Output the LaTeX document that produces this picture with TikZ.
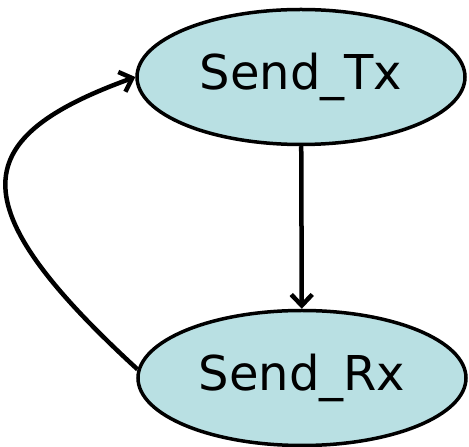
\documentclass[tikz,border=0pt]{standalone}
\usepackage{fontspec}
\setmainfont{DejaVu Sans}
\usetikzlibrary{arrows.meta, shapes.geometric}
\definecolor{statefill}{RGB}{185,224,227}

\begin{document}
\begin{tikzpicture}[x=1pt,y=1pt,
    state/.style={ellipse, draw, line width=3.5pt, fill=statefill,
        minimum width=328pt, minimum height=135pt, inner sep=0pt,
        font=\fontsize{48}{50}\selectfont},
    trans/.style={line width=4.5pt, -{Straight Barb[length=11pt,width=21pt,line width=4.5pt]}}]
    \useasboundingbox (0,0) rectangle (469,447);
    \node[state] (tx) at (301,370) {Send\_Tx};
    \node[state] (rx) at (302,69) {Send\_Rx};
    \draw[trans] (tx) -- (rx);
    \draw[trans] (rx.177) .. controls (-45,245) and (-30,310) .. (tx.west);
\end{tikzpicture}
\end{document}
